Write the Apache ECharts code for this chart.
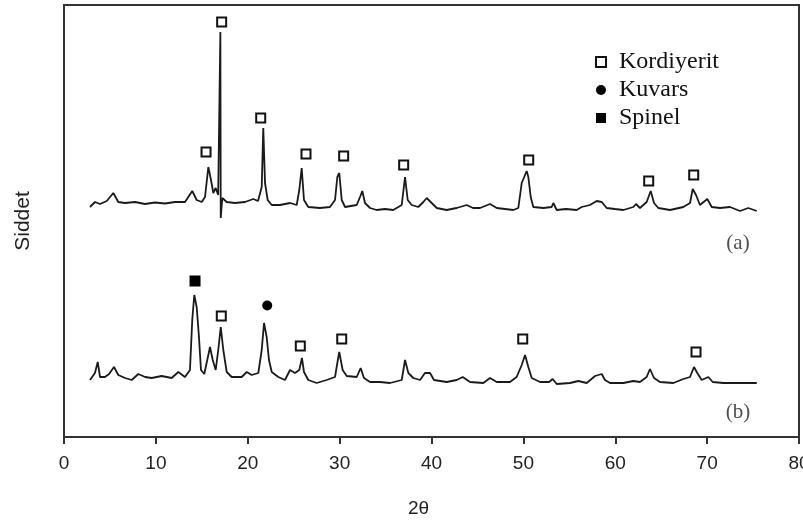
<!DOCTYPE html>
<html>
<head>
<meta charset="utf-8">
<script src="https://cdn.jsdelivr.net/npm/echarts@6/dist/echarts.min.js"></script>
<style>html,body{margin:0;padding:0;background:#fff;}#c{width:803px;height:520px;}</style>
</head>
<body>
<div id="c"></div>
<script>
// 2θ values and intensities (arbitrary units) for pattern (a)
const thetaA = [2.83,3.37,3.92,4.65,5.37,5.91,6.64,7.73,8.82,9.90,10.99,12.08,13.17,13.96,14.44,14.99,15.35,15.71,16.0,16.25,16.51,16.78,17.02,17.06,17.23,17.71,18.61,19.70,20.60,21.12,21.52,21.69,21.88,22.17,22.61,23.51,24.60,25.33,25.61,25.87,26.12,26.59,27.86,28.95,29.50,29.75,29.96,30.23,30.59,31.86,32.22,32.47,32.76,33.31,34.03,34.94,35.84,36.76,37.12,37.41,37.85,38.56,39.11,39.48,40.02,40.57,41.65,42.74,43.83,44.52,45.28,46.37,47.10,48.0,48.90,49.45,49.82,50.18,50.36,50.54,50.80,51.08,52.17,53.08,53.26,53.63,54.64,55.80,56.35,57.25,57.98,58.53,59.07,59.97,60.88,61.97,62.26,62.69,63.42,63.86,64.22,64.69,65.96,67.41,68.14,68.43,68.79,69.22,70.02,70.50,71.40,72.49,73.58,74.48,75.40];
const intensityA = [230,235,233,236,244,235,234,235,233,234.5,233.5,235,235,246,237,235,240,270,257,244,249,242,405,219,239,235,234,235,238,236,250,309,254,237,232,232,234,232,247,269,237,230,229,230,237,260,264,237,230,232,240,246,234,229,227,228,227,232,260,237,232,230,235,239,234,229,227,229,232,229,229,233,229,228,227,229,254,262,266,260,240,230,229,230,234,227,228,227,230,232,236,235,229,228,227,230,233,229,235,246,234,229,227,230,234,248,242,232,238,230,229,230,226,229,226];

// 2θ values and intensities for pattern (b)
const thetaB = [2.83,3.37,3.67,3.92,4.46,4.90,5.44,5.91,6.64,7.37,8.09,8.82,9.55,10.63,11.72,12.44,13.17,13.71,13.96,14.18,14.44,14.69,14.91,15.27,15.64,15.89,16.19,16.51,16.79,17.06,17.34,17.71,18.25,19.34,19.89,20.43,21.15,21.52,21.77,22.06,22.31,22.61,23.33,24.05,24.60,25.14,25.61,25.90,26.12,26.59,27.50,28.59,29.50,29.75,29.96,30.33,30.77,31.86,32.29,32.65,33.31,34.39,35.48,36.76,37.12,37.48,38.02,38.75,39.29,39.84,40.27,41.65,42.74,43.40,44.19,45.64,46.37,47.10,48.54,49.27,49.82,50.18,50.54,50.91,51.81,52.79,53.19,53.63,55.07,55.98,56.89,57.80,58.53,58.88,59.43,60.88,61.97,62.69,63.42,63.78,64.22,64.87,66.32,67.41,68.14,68.57,68.93,69.41,70.13,70.61,71.76,73.58,75.40];
const intensityB = [57,64,75,60,60,63,70,62,59,57,63,60,59,61,59,65,60,67,117,142,130,100,67,63,79,90,77,67,87,110,87,65,60,60,65,62,64,87,114,100,77,65,60,57,67,64,67,79,65,57,54,57,60,74,85,67,61,60,69,59,55,55,54,57,77,64,59,57,64,64,57,55,57,60,55,54,59,55,55,60,72,82,70,59,55,55,58,53,54,56,54,61,63,57,54,54,56,55,60,68,59,55,54,58,60,70,64,57,60,55,54,54,54];

// Phase markers [2θ, intensity]
const kordiyerit = [[15.46,285],[17.16,415],[21.41,319],[26.34,283],[30.44,281],[36.97,272],[50.58,277],[63.64,256],[68.54,262],
                    [17.12,121],[25.72,91],[30.23,98],[49.93,98],[68.79,85]];
const kuvars = [[22.12,131.5]];
const spinel = [[14.26,156]];

// Pattern labels
const patternLabels = [{name:'(a)', value:[73.36,194]},{name:'(b)', value:[73.36,25]}];

// Axis ticks
const xMin = 0, xMax = 80, xStep = 10;

const pairs = (xs, ys) => xs.map((x,i)=>[x, ys[i]]);

const chart = echarts.init(document.getElementById('c'), null, {renderer:'canvas'});
chart.setOption({
  animation:false,
  backgroundColor:'#fff',
  grid:{left:64, right:4, top:5, bottom:83, show:true, borderColor:'#333', borderWidth:2, containLabel:false, outerBoundsMode:'none'},
  legend:{
    orient:'vertical', left:590, top:43, itemWidth:10, itemHeight:10, itemGap:0,
    selectedMode:false,
    data:['Kordiyerit','Kuvars','Spinel'],
    textStyle:{fontFamily:'Liberation Serif', fontSize:24, lineHeight:28, color:'#111', padding:[0,0,0,8]}
  },
  xAxis:{
    type:'value', min:xMin, max:xMax, interval:xStep,
    name:'2θ', nameLocation:'middle', nameGap:62,
    nameTextStyle:{fontFamily:'Liberation Sans', fontSize:19, color:'#222', padding:[0,26,0,0]},
    axisLine:{lineStyle:{color:'#333', width:2}},
    axisTick:{length:7, lineStyle:{color:'#333', width:2}},
    axisLabel:{fontFamily:'Liberation Sans', fontSize:19, color:'#222', margin:17},
    splitLine:{show:false}
  },
  yAxis:{
    type:'value', min:0, max:432,
    name:'Siddet', nameLocation:'middle', nameGap:30, nameRotate:90,
    nameTextStyle:{fontFamily:'Liberation Sans', fontSize:21, color:'#222'},
    axisLine:{show:true, lineStyle:{color:'#333', width:2}},
    axisTick:{show:false}, axisLabel:{show:false}, splitLine:{show:false}
  },
  series:[
    {name:'a', type:'line', data:pairs(thetaA,intensityA), showSymbol:false, symbol:'none',
     lineStyle:{color:'#1a1a1a', width:1.8}, z:2},
    {name:'b', type:'line', data:pairs(thetaB,intensityB), showSymbol:false, symbol:'none',
     lineStyle:{color:'#1a1a1a', width:1.8}, z:2},
    {name:'Kordiyerit', type:'scatter', data:kordiyerit, symbol:'rect', symbolSize:9,
     itemStyle:{color:'#fff', borderColor:'#111', borderWidth:2, opacity:1}, z:3},
    {name:'Kuvars', type:'scatter', data:kuvars, symbol:'circle', symbolSize:10,
     itemStyle:{color:'#000', opacity:1}, z:3},
    {name:'Spinel', type:'scatter', data:spinel, symbol:'rect', symbolSize:11,
     itemStyle:{color:'#000', opacity:1}, z:3},
    {name:'labels', type:'scatter', data:patternLabels, symbolSize:0, silent:true,
     label:{show:true, position:'inside', formatter:p=>p.name, fontFamily:'Liberation Serif', fontSize:21, color:'#222'}, z:3}
  ]
});
</script>
</body>
</html>
